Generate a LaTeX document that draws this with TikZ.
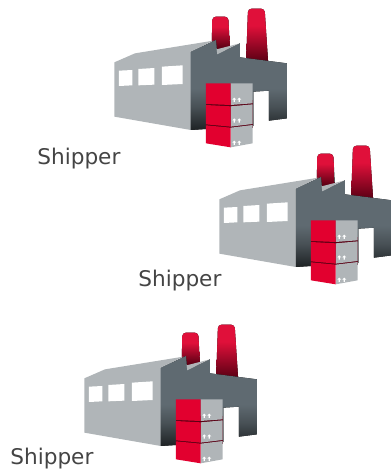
\documentclass[tikz,border=0pt]{standalone}
\usepackage{fontspec}
\setmainfont{DejaVu Sans}
\usepackage{xcolor}
\definecolor{wallgrey}{HTML}{B0B5B8}
\definecolor{halldark}{HTML}{5F6A71}
\definecolor{hallblack}{HTML}{1E2224}
\definecolor{boxred}{HTML}{E2002F}
\definecolor{stackred}{HTML}{E0103A}
\definecolor{stackdark}{HTML}{5A0014}
\definecolor{labelgrey}{HTML}{444444}
\pgfdeclareverticalshading{hallshade}{100bp}{color(0bp)=(hallblack);color(25bp)=(hallblack);color(38bp)=(halldark!65!hallblack);color(48bp)=(halldark);color(75bp)=(halldark);color(100bp)=(halldark)}
\pgfdeclareverticalshading{stackshade}{100bp}{color(0bp)=(stackdark);color(28bp)=(stackdark);color(60bp)=(stackred);color(75bp)=(stackred);color(100bp)=(stackred)}
\tikzset{
    shipper/.style={text=labelgrey, font=\fontsize{12.3}{14}\selectfont, inner sep=0pt},
    pics/factory/.style={code={
        % chimneys
        \fill[shading=stackshade, rounded corners=2pt] (335,150) -- (337,50) -- (385,50) -- (390,150) -- cycle;
        \fill[shading=stackshade, rounded corners=2pt] (438,195) -- (444,26) -- (494,26) -- (505,195) -- cycle;
        % walls
        \fill[shading=hallshade] (272,155) -- (348,120) -- (352,162) -- (420,130) -- (420,172) -- (561,190) -- (561,355) -- (507,362) -- (507,272) -- (460,275) -- (460,378) -- (272,390) -- cycle;
        \fill[wallgrey] (43,187) -- (105,160) -- (340,122) -- (272,155) -- (272,390) -- (43,350) -- cycle;
        \fill[wallgrey] (350,148) -- (416,131) -- (352,163) -- cycle;
        % windows
        \fill[white] (57,212) -- (97,210) -- (97,256) -- (57,258) -- cycle;
        \fill[white] (115,207) -- (163,204) -- (163,254) -- (115,256) -- cycle;
        \fill[white] (186,200) -- (248,196) -- (248,252) -- (186,255) -- cycle;
        % boxes
        \fill[stackdark] (318,300) -- (458,300) -- (458,385) -- (318,385) -- cycle;
        \foreach \lefttop/\midtop/\righttop/\leftbot/\midbot/\rightbot/\arrowtop in {250/250/250/312/315/310/293, 315/319/313/373/380/372/355, 376/383/375/430/442/430/422} {
            \fill[wallgrey] (392,\midtop) -- (458,\righttop) -- (458,\rightbot) -- (392,\midbot) -- cycle;
            \fill[boxred] (318,\lefttop) -- (392,\midtop) -- (392,\midbot) -- (318,\leftbot) -- cycle;
            \foreach \arrowx in {403,418} {
                \fill[white] (\arrowx-6,\arrowtop+6) -- (\arrowx,\arrowtop) -- (\arrowx+6,\arrowtop+6) -- (\arrowx+2,\arrowtop+6) -- (\arrowx+2,\arrowtop+13) -- (\arrowx-2,\arrowtop+13) -- (\arrowx-2,\arrowtop+6) -- cycle;
            }
        }
    }}
}

\begin{document}
\begin{tikzpicture}[x=0.02cm, y=-0.02cm]
    \useasboundingbox (0,0) rectangle (391,471);
    \pic[scale=0.3333] at (100,0) {factory};
    \pic[scale=0.3333] at (205,137) {factory};
    \pic[scale=0.3333] at (70,316) {factory};
    \node[shipper, anchor=west] (shipperone) at (37,158.5) {Shipper};
    \node[shipper, anchor=west] (shippertwo) at (138,280.5) {Shipper};
    \node[shipper, anchor=west] (shipperthree) at (10,458.5) {Shipper};
\end{tikzpicture}
\end{document}
